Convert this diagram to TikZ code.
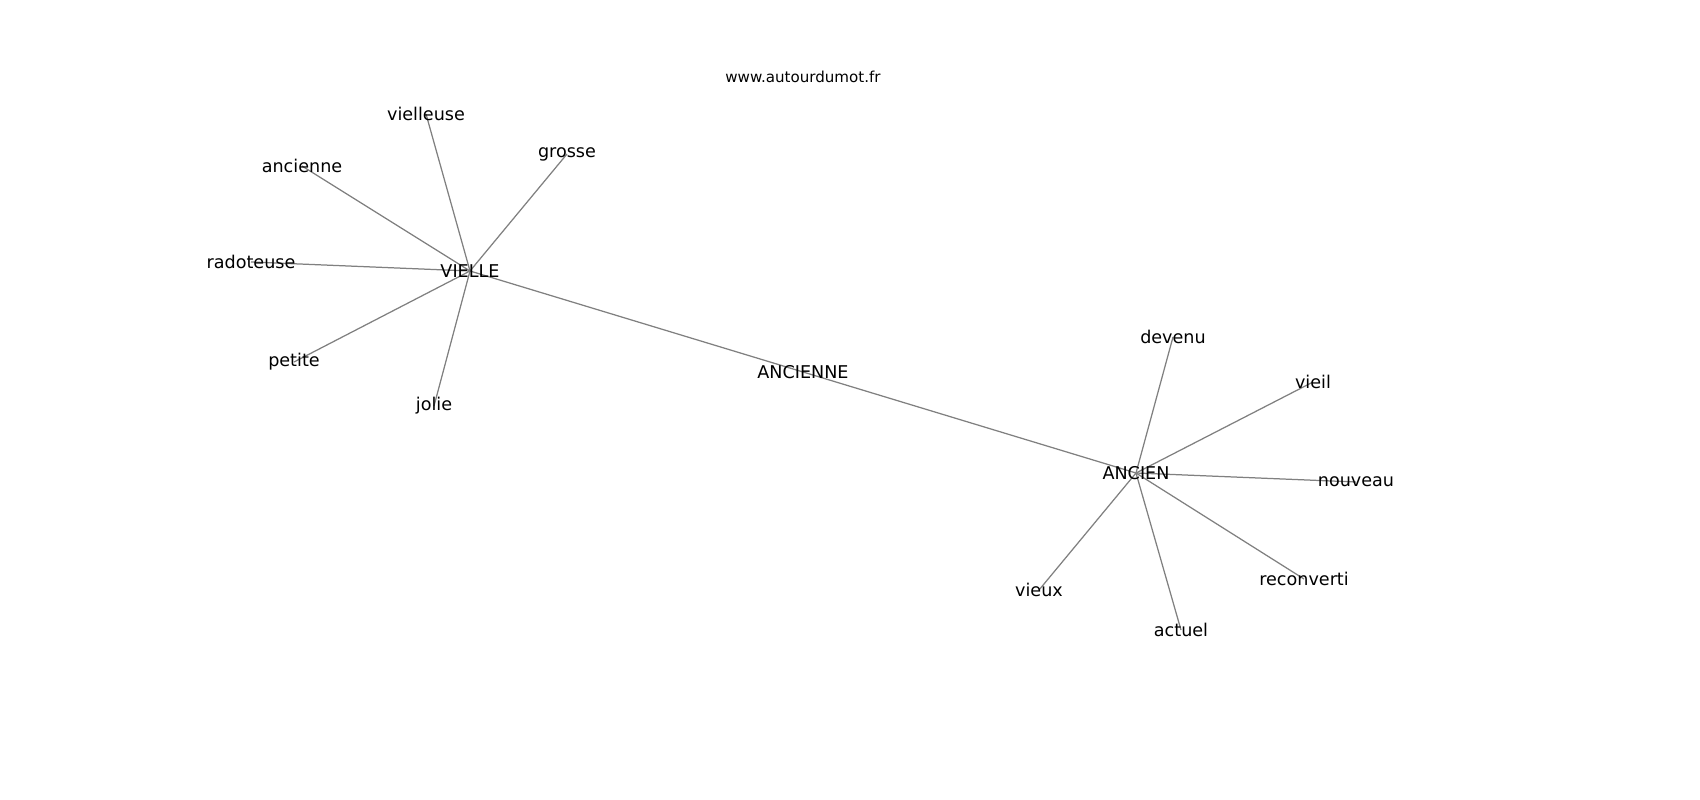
\documentclass[tikz,border=0pt]{standalone}
\usepackage{fontspec}
\setmainfont{DejaVu Sans}
\usetikzlibrary{backgrounds}
\tikzset{
  mot/.style={inner sep=0pt, font=\fontsize{12.7}{15}\selectfont},
  lien/.style={draw=gray, line width=0.9pt}
}
\begin{document}
\begin{tikzpicture}[x=0.01in, y=-0.01in]
    \useasboundingbox (0,0) rectangle (1700,800);
    % Titre
    \node[inner sep=0pt, font=\fontsize{10.9}{13}\selectfont] (titre) at (803,77) {www.autourdumot.fr};

    % Centres
    \node[mot] (vielle) at (470,271) {VIELLE};
    \node[mot] (anciennemaj) at (803,372) {ANCIENNE};
    \node[mot] (ancien) at (1136,473) {ANCIEN};

    % Autour de VIELLE
    \node[mot] (vielleuse) at (426,114) {vielleuse};
    \node[mot] (grosse) at (567,154) {grosse};
    \node[mot] (ancienne) at (302,166) {ancienne};
    \node[mot] (radoteuse) at (251,262) {radoteuse};
    \node[mot] (petite) at (294,362) {petite};
    \node[mot] (jolie) at (434,406) {jolie};

    % Autour de ANCIEN
    \node[mot] (devenu) at (1173,337) {devenu};
    \node[mot] (vieil) at (1313,382) {vieil};
    \node[mot] (nouveau) at (1356,482) {nouveau};
    \node[mot] (reconverti) at (1304,579) {reconverti};
    \node[mot] (actuel) at (1181,630) {actuel};
    \node[mot] (vieux) at (1039,590) {vieux};

    % Liens
    \begin{scope}[on background layer]
      \draw[lien] (vielle.center) -- (anciennemaj.center) -- (ancien.center);
      \foreach \m in {vielleuse,grosse,ancienne,radoteuse,petite,jolie}
        \draw[lien] (vielle.center) -- (\m.center);
      \foreach \m in {devenu,vieil,nouveau,reconverti,actuel,vieux}
        \draw[lien] (ancien.center) -- (\m.center);
    \end{scope}
\end{tikzpicture}
\end{document}
